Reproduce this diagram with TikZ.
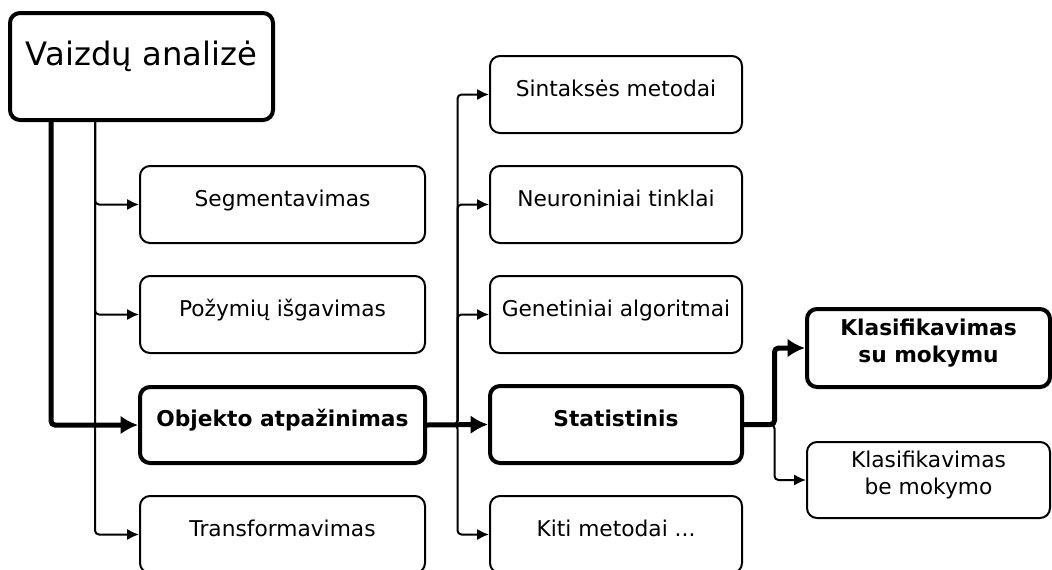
\documentclass[tikz,border=0pt]{standalone}
\usepackage{fontspec}
\setmainfont{DejaVu Sans}
\usetikzlibrary{arrows.meta,calc}
\begin{document}
\begin{tikzpicture}[x=0.75pt,y=-0.75pt,
  sz/.style 2 args={minimum width=#1*0.75pt, minimum height=#2*0.75pt},
  box/.style={draw, rounded corners=7.5pt, line width=1.5pt, fill=white, inner sep=0pt},
  keybox/.style={box, line width=3pt},
  txt/.style={inner sep=0pt, font=\fontsize{16.3pt}{20.25pt}\selectfont, text height=12.4pt, text depth=3.8pt},
  keytxt/.style={txt, font=\fontsize{16.3pt}{20.25pt}\selectfont\bfseries},
  twoline/.style={inner sep=0pt, align=center, font=\fontsize{16.3pt}{20.25pt}\selectfont},
  link/.style={line width=1.5pt, rounded corners=3pt, -{Latex[length=9pt,width=8.5pt]}},
  mainlink/.style={line width=3.75pt, rounded corners=3pt, -{Latex[length=13pt,width=14pt]}},
]
\clip (0,0) rectangle (1052,569);

% root
\node[keybox, sz={263}{107}] (va) at (141.5,66.5) {};
\node[inner sep=0pt, font=\fontsize{24.2pt}{29pt}\selectfont] (vaT) at ($(va.center)+(0,-10)$) {Vaizdų analizė};

% first column
\node[box, sz={285}{77}] (seg) at (282.5,204.5) {};
\node[box, sz={285}{77}] (poz) at (282.5,314.5) {};
\node[keybox, sz={285}{76}] (obj) at (282.5,425) {};
\node[box, sz={285}{77}] (trans) at (282.5,534.5) {};
\node[txt] (segT) at ($(seg.center)+(0,-4.2)$) {Segmentavimas};
\node[txt] (pozT) at ($(poz.center)+(0,-4.2)$) {Požymių išgavimas};
\node[keytxt] (objT) at ($(obj.center)+(0,-4.2)$) {Objekto atpažinimas};
\node[txt] (transT) at ($(trans.center)+(0,-4.2)$) {Transformavimas};

% second column
\node[box, sz={252}{77}] (sint) at (616,94.5) {};
\node[box, sz={252}{77}] (neur) at (616,204.5) {};
\node[box, sz={252}{77}] (gen) at (616,314.5) {};
\node[keybox, sz={252}{77}] (stat) at (616,424.5) {};
\node[box, sz={252}{77}] (kiti) at (616,534.5) {};
\node[txt] (sintT) at ($(sint.center)+(0,-4.2)$) {Sintaksės metodai};
\node[txt] (neurT) at ($(neur.center)+(0,-4.2)$) {Neuroniniai tinklai};
\node[txt] (genT) at ($(gen.center)+(0,-4.2)$) {Genetiniai algoritmai};
\node[keytxt] (statT) at ($(stat.center)+(0,-4.2)$) {Statistinis};
\node[txt] (kitiT) at ($(kiti.center)+(0,-4.2)$) {Kiti metodai ...};

% third column
\node[keybox, sz={243}{78}] (su) at (928.5,348) {};
\node[box, sz={243}{76}] (be) at (928.5,480) {};
\node[twoline, font=\fontsize{16.3pt}{20.25pt}\selectfont\bfseries] (suT) at ($(su.center)+(0,-5)$) {Klasifikavimas\\su mokymu};
\node[twoline] (beT) at ($(be.center)+(0,-5)$) {Klasifikavimas\\be mokymo};

% connectors from the root
\coordinate (r1) at ($(va.south west)+(43,0)$);
\coordinate (r2) at ($(va.south west)+(87,0)$);
\draw[link] (r2) |- (seg.west);
\draw[link] (r2) |- (poz.west);
\draw[link] (r2) |- (trans.west);
\draw[mainlink] (r1) |- (obj.west);

% connectors from object recognition
\coordinate (j1) at ($(obj.east)!0.5!(stat.west)$);
\draw[link] (obj.east) -- (j1) |- (sint.west);
\draw[link] (obj.east) -- (j1) |- (neur.west);
\draw[link] (obj.east) -- (j1) |- (gen.west);
\draw[link] (obj.east) -- (j1) |- (kiti.west);
\draw[mainlink] (obj.east) -- (stat.west);

% connectors from the statistical branch
\coordinate (j2) at ($(stat.east)!0.5!(su.west)$);
\draw[link] (stat.east) -- (stat.east -| j2) |- (be.west);
\draw[mainlink] (stat.east) -- (stat.east -| j2) |- (su.west);
\end{tikzpicture}
\end{document}
